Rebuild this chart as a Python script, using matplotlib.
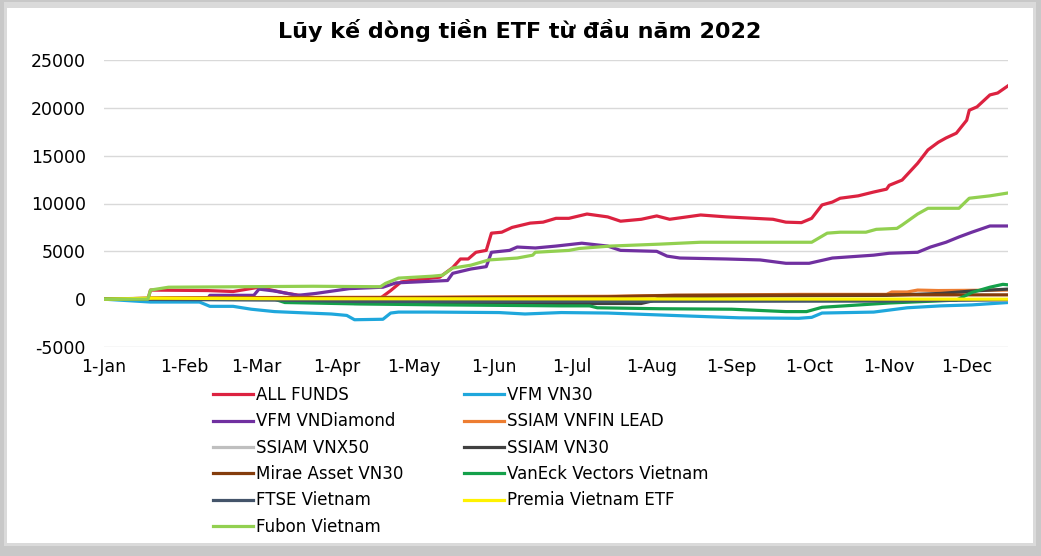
import numpy as np
import matplotlib
matplotlib.use("Agg")
import matplotlib.pyplot as plt
import matplotlib.dates as mdates
import pandas as pd
from matplotlib.patches import Rectangle

plt.rcParams['font.family'] = ['DejaVu Sans', 'Liberation Sans']
plt.rcParams['axes.unicode_minus'] = False

title = "Lũy kế dòng tiền ETF từ đầu năm 2022"

# cumulative flows (bn VND) as (MM-DD, value)
all_funds_d = ["01-01", "01-18", "01-19", "02-10", "02-20", "03-02", "03-06", "03-12", "03-22", "04-05",
               "04-10", "04-16", "04-19", "04-22", "04-26", "05-01", "05-11", "05-16", "05-19", "05-22",
               "05-25", "05-29", "05-31", "06-04", "06-08", "06-15", "06-20", "06-25", "06-30", "07-07",
               "07-15", "07-20", "07-28", "08-03", "08-08", "08-20", "08-30", "09-17", "09-22", "09-28",
               "10-02", "10-06", "10-10", "10-13", "10-20", "10-26", "10-31", "11-01", "11-06", "11-12",
               "11-16", "11-20", "11-23", "11-27", "12-01", "12-02", "12-05", "12-10", "12-13", "12-17"]
all_funds_v = [0, 0, 950, 900, 800, 1250, 1000, 650, 200, -100,
               -350, -300, 300, 900, 1800, 2000, 2300, 3300, 4200, 4200,
               4900, 5100, 6900, 7000, 7500, 7950, 8050, 8450, 8450, 8900,
               8600, 8150, 8350, 8700, 8350, 8800, 8600, 8350, 8050, 8000,
               8450, 9850, 10150, 10550, 10800, 11200, 11500, 11900, 12450, 14200,
               15600, 16400, 16850, 17350, 18700, 19750, 20100, 21350, 21550, 22300]

vfm_vn30_d = ["01-01", "01-19", "02-07", "02-11", "02-20", "02-27", "03-08", "03-21", "03-30", "04-05",
              "04-08", "04-19", "04-22", "04-25", "05-08", "06-03", "06-13", "06-27", "07-15", "08-09",
              "09-04", "09-27", "10-02", "10-06", "10-26", "11-08", "11-21", "12-03", "12-17"]
vfm_vn30_v = [0, -300, -300, -750, -750, -1050, -1300, -1450, -1550, -1700,
              -2150, -2100, -1450, -1350, -1350, -1400, -1550, -1400, -1450, -1700,
              -1950, -2000, -1900, -1450, -1350, -900, -700, -600, -350]

vfm_diamond_d = ["01-01", "02-10", "02-11", "02-28", "03-02", "03-08", "03-17", "03-24", "04-06", "04-19",
                 "04-24", "05-14", "05-16", "05-23", "05-29", "05-31", "06-07", "06-10", "06-17", "06-25",
                 "07-05", "07-15", "07-20", "08-03", "08-07", "08-12", "08-30", "09-12", "09-22", "10-01",
                 "10-10", "10-26", "11-01", "11-12", "11-17", "11-23", "11-28", "12-03", "12-10", "12-17"]
vfm_diamond_v = [0, 0, 400, 400, 1050, 850, 400, 600, 1100, 1250,
                 1700, 1950, 2700, 3150, 3400, 4900, 5100, 5450, 5350, 5550,
                 5850, 5550, 5100, 5000, 4500, 4300, 4200, 4100, 3750, 3750,
                 4300, 4600, 4800, 4900, 5450, 5950, 6500, 7000, 7650, 7650]

vnfin_d = ["01-01", "01-25", "04-25", "06-01", "07-15", "08-09", "09-27", "10-31", "11-02", "11-08",
           "11-12", "11-20", "12-17"]
vnfin_v = [0, 150, 200, 250, 300, 400, 500, 500, 750, 750, 950, 900, 950]

vnx50_d = ["01-01", "03-15", "07-01", "12-17"]
vnx50_v = [0, -50, -100, -100]

ssiam_vn30_d = ["01-01", "03-25", "04-08", "07-28", "08-01", "08-05", "09-15", "10-31", "11-21", "12-03", "12-17"]
ssiam_vn30_v = [0, 0, -450, -450, -200, 250, 350, 400, 600, 850, 1050]

mirae_d = ["01-01", "01-20", "05-01", "07-15", "08-10", "10-31", "12-17"]
mirae_v = [0, 100, 150, 250, 400, 450, 450]

vaneck_d = ["01-01", "03-08", "03-12", "04-10", "05-12", "06-27", "07-08", "07-11", "08-04", "09-01",
            "09-22", "09-30", "10-06", "11-01", "11-27", "12-03", "12-10", "12-15", "12-17"]
vaneck_v = [0, 0, -350, -500, -600, -700, -700, -900, -1000, -1050,
            -1300, -1300, -850, -400, -100, 700, 1250, 1550, 1500]

ftse_d = ["01-01", "03-10", "04-10", "10-31", "12-17"]
ftse_v = [0, -100, -250, -200, -50]

premia_d = ["01-01", "01-20", "03-10", "12-17"]
premia_v = [0, 100, 50, 0]

fubon_d = ["01-01", "01-18", "01-19", "01-26", "03-23", "04-18", "04-20", "04-25", "05-08", "05-12",
           "05-16", "05-23", "05-30", "06-10", "06-16", "06-17", "06-30", "07-04", "07-16", "08-04",
           "08-20", "10-02", "10-08", "10-13", "10-23", "10-27", "11-04", "11-06", "11-12", "11-16",
           "11-28", "12-02", "12-10", "12-17"]
fubon_v = [0, 0, 950, 1250, 1350, 1300, 1650, 2200, 2400, 2500,
           3250, 3550, 4100, 4300, 4600, 4900, 5100, 5300, 5550, 5750,
           5950, 5950, 6900, 7000, 7000, 7300, 7400, 7750, 8900, 9500,
           9500, 10550, 10800, 11100]

series = [
    ("ALL FUNDS", all_funds_d, all_funds_v, "#DC2240"),
    ("VFM VN30", vfm_vn30_d, vfm_vn30_v, "#1FA7DC"),
    ("VFM VNDiamond", vfm_diamond_d, vfm_diamond_v, "#7030A0"),
    ("SSIAM VNFIN LEAD", vnfin_d, vnfin_v, "#ED7D31"),
    ("SSIAM VNX50", vnx50_d, vnx50_v, "#BFBFBF"),
    ("SSIAM VN30", ssiam_vn30_d, ssiam_vn30_v, "#404040"),
    ("Mirae Asset VN30", mirae_d, mirae_v, "#843C0C"),
    ("VanEck Vectors Vietnam", vaneck_d, vaneck_v, "#14A04A"),
    ("FTSE Vietnam", ftse_d, ftse_v, "#44546A"),
    ("Premia Vietnam ETF", premia_d, premia_v, "#FFF200"),
    ("Fubon Vietnam", fubon_d, fubon_v, "#92D050"),
]


def to_dates(days):
    return pd.to_datetime(["2022-" + d for d in days])


fig = plt.figure(figsize=(10.41, 5.56), dpi=100)
fig.patch.set_facecolor("#C8C8C8")
# white card with a soft shadow frame
fig.patches.append(Rectangle((4 / 1041, 10 / 556), 1032 / 1041, 544 / 556, transform=fig.transFigure,
                             facecolor="#DADADA", edgecolor="none", zorder=-3))
fig.patches.append(Rectangle((7 / 1041, 13 / 556), 1026 / 1041, 535 / 556, transform=fig.transFigure,
                             facecolor="white", edgecolor="none", zorder=-2))

ax = fig.add_axes([104 / 1041, 209 / 556, 904 / 1041, 287 / 556])
ax.set_facecolor("none")

lines = []
for name, d, v, c in series:
    ln, = ax.plot(to_dates(d), v, color=c, lw=2.3, label=name, solid_joinstyle="round")
    lines.append(ln)

ax.set_ylim(-5000, 25000)
ax.set_yticks(np.arange(-5000, 25001, 5000))
ax.set_xlim(pd.Timestamp("2022-01-01"), pd.Timestamp("2022-12-17"))
ax.xaxis.set_major_locator(mdates.MonthLocator())
ax.xaxis.set_major_formatter(mdates.DateFormatter("1-%b"))
ax.grid(axis="y", color="#D9D9D9", lw=1.0, zorder=0)
ax.set_axisbelow(True)
for s in ax.spines.values():
    s.set_visible(False)
ax.axhline(0, color="#D9D9D9", lw=1.0, zorder=0.5)
ax.tick_params(axis="y", length=0, pad=13, labelsize=12.5, colors="black")
ax.tick_params(axis="x", length=0, pad=8, labelsize=12.5, colors="black")

fig.text(0.4995, 0.946, title, ha="center", va="center", fontsize=16, fontweight="bold")

order = [0, 2, 4, 6, 8, 10, 1, 3, 5, 7, 9]
fig.legend([lines[i] for i in order], [series[i][0] for i in order],
           loc="upper left", bbox_to_anchor=(213 / 1041, 1 - 386 / 556), ncol=2,
           frameon=False, fontsize=12, handlelength=2.4, handletextpad=0.2,
           columnspacing=3.6, labelspacing=0.5, borderpad=0, borderaxespad=0)

fig.savefig("out.png", dpi=100, facecolor=fig.get_facecolor())
